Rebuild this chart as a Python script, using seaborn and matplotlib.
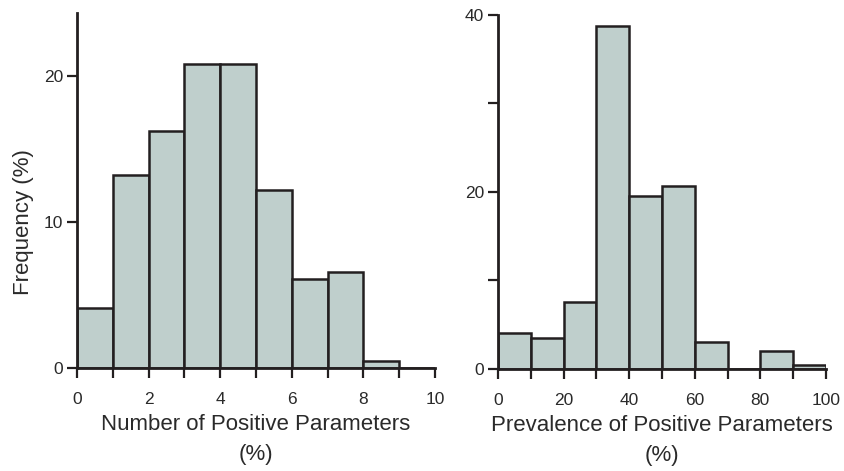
#!/usr/bin/env python3
import numpy as np
import matplotlib
matplotlib.use("Agg")
import matplotlib.pyplot as plt
import seaborn as sns

# Left panel: number of positive parameters (bins of width 1)
num_centers = [0.5, 1.5, 2.5, 3.5, 4.5, 5.5, 6.5, 7.5, 8.5, 9.5]
num_freq = [4.1, 13.2, 16.2, 20.8, 20.8, 12.2, 6.1, 6.6, 0.5, 0.0]
num_edges = list(range(0, 11))
num_xticklabels = ["0", "", "2", "", "4", "", "6", "", "8", "", "10"]
num_yticks = [0, 10, 20]

# Right panel: prevalence of positive parameters (bins of width 10)
prev_centers = [5, 15, 25, 35, 45, 55, 65, 75, 85, 95]
prev_freq = [4.1, 3.5, 7.6, 38.8, 19.6, 20.7, 3.0, 0.0, 2.0, 0.5]
prev_edges = list(range(0, 101, 10))
prev_xticklabels = ["0", "", "20", "", "40", "", "60", "", "80", "", "100"]
prev_yticks = [0, 10, 20, 30, 40]
prev_yticklabels = ["0", "", "20", "", "40"]

sns.set_style("ticks")
plt.rcParams['font.family'] = ['Liberation Sans', 'DejaVu Sans']

ink = "#231f20"
text_ink = "#2a2a2a"
fill = "#bfcfcc"

fig = plt.figure(figsize=(8.44, 4.71), dpi=100)
ax1 = fig.add_axes([0.0912, 0.2187, 0.4242, 0.7537])
ax2 = fig.add_axes([0.5900, 0.2166, 0.3886, 0.7516])

sns.histplot(x=num_centers, weights=num_freq, bins=num_edges, ax=ax1,
             color=fill, alpha=1, edgecolor=ink, linewidth=1.8)
sns.histplot(x=prev_centers, weights=prev_freq, bins=prev_edges, ax=ax2,
             color=fill, alpha=1, edgecolor=ink, linewidth=1.8)

def style(ax, xlim, ylim, xticks, xlabels, yticks, ylabels, xlabel):
    ax.set_xlim(*xlim)
    ax.set_ylim(*ylim)
    ax.set_xticks(xticks)
    ax.set_xticklabels(xlabels)
    ax.set_yticks(yticks)
    ax.set_yticklabels(ylabels)
    for s in ["top", "right"]:
        ax.spines[s].set_visible(False)
    for s in ["left", "bottom"]:
        ax.spines[s].set_linewidth(2.0)
        ax.spines[s].set_color(ink)
        ax.spines[s].set_zorder(5)
    ax.tick_params(axis="both", length=7, width=1.6, color=ink,
                   labelsize=12.5, labelcolor=text_ink)
    ax.tick_params(axis="x", pad=10.5)
    ax.tick_params(axis="y", pad=3)
    ax.set_xlabel(xlabel, fontsize=16, color=text_ink, labelpad=5, linespacing=1.55)
    ax.set_ylabel("")

style(ax1, (0, 10), (0, 24.3), num_edges, num_xticklabels,
      num_yticks, [str(v) for v in num_yticks],
      "Number of Positive Parameters\n(%)")
style(ax2, (0, 100), (0, 40), prev_edges, prev_xticklabels,
      prev_yticks, prev_yticklabels,
      "Prevalence of Positive Parameters\n(%)")

ax1.set_ylabel("Frequency (%)", fontsize=16, color=text_ink)
ax1.yaxis.set_label_coords(-0.12, 0.411)

fig.savefig("out.png", dpi=100)
